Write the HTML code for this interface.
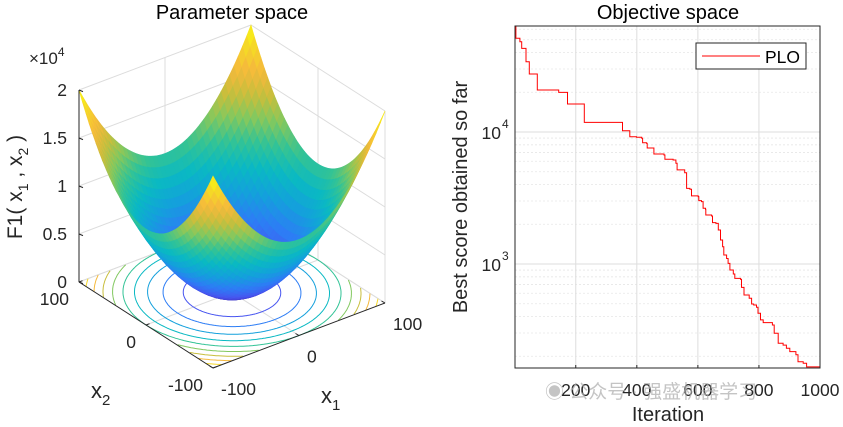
<!DOCTYPE html>
<html><head><meta charset="utf-8"><style>
html,body{margin:0;padding:0;background:#fff;}
svg{display:block;font-family:"Liberation Sans","Noto Sans CJK SC",sans-serif;}
</style></head><body>
<svg id="fig" width="843" height="427" viewBox="0 0 843 427" xmlns="http://www.w3.org/2000/svg">
<rect x="0" y="0" width="843" height="427" fill="#fff"/>
<g id="left"></g>
<g id="right"></g>
</svg>
<script>
// ---- Convergence data (Objective space) ----
const iterations = [1,4,17,23,36,37,47,48,72,74,143,144,172,173,227,228,350,353,375,377,399,416,419,432,434,454,456,489,492,519,528,532,557,563,574,579,601,603,612,617,625,626,645,648,659,667,674,681,685,694,699,705,716,721,740,743,751,768,776,783,792,797,805,814,844,850,863,879,890,901,921,928,945,956,1000];
const bestScores = [63000,51300,48300,43000,43000,34100,34100,27500,27500,20800,20800,19950,19950,16300,16300,11830,11830,10230,10230,9220,9120,8960,8300,8200,7560,7560,6810,6690,6210,6140,5790,5160,4920,3740,3680,3280,3240,3020,2970,2640,2600,2350,2310,2060,2030,1810,1520,1350,1170,1100,1010,900,840,778,765,665,582,550,498,489,470,423,377,360,345,299,251,243,230,217,205,182,177,166,165];
const xTicks = [200,400,600,800,1000];
const yDecades = [3,4];
// ---- Surface / contour settings (Parameter space) ----
const gridVals = [];
for (let v=-100; v<=100; v+=5) gridVals.push(v);
const contourLevels = [2000,4000,6000,8000,10000,12000,14000,16000,18000];
const zTicks = [0,5000,10000,15000,20000];
const zTickLabels = ["0","0.5","1","1.5","2"];
const x1Ticks = [-100,0,100];
const x2Ticks = [-100,0,100];

const NS="http://www.w3.org/2000/svg";
function mk(tag, attrs, parent){const e=document.createElementNS(NS,tag);for(const k in attrs)e.setAttribute(k,attrs[k]);parent.appendChild(e);return e;}
const TF=17.5;

// ---------- RIGHT ----------
const R=document.getElementById('right');
const L0=515,R0=820,T0=26,B0=368;
const xs=i=>L0+(i-1)/999*(R0-L0);
const ys=v=>132-(Math.log10(v)-4)*132;
for(let d=2;d<=4;d++){for(let m=1;m<=9;m++){const v=m*Math.pow(10,d);const y=ys(v);if(y<T0||y>B0)continue;
 const ln=mk('line',{x1:L0,x2:R0,y1:y,y2:y,stroke:m===1?'#dedede':'#e6e6e6','stroke-width':m===1?1:0.8,'stroke-dasharray':m===1?'':'2,2'},R);
 
 }}
xTicks.forEach(t=>{const x=xs(t);
 const g=mk('line',{x1:x,x2:x,y1:T0,y2:B0,stroke:'#dedede','stroke-width':1},R);
 
 
 const tk=mk('line',{x1:x,x2:x,y1:B0,y2:B0-3,stroke:'#262626'},R);
 
 
 const tx=mk('text',{x:x,y:396,'text-anchor':'middle','font-size':TF,fill:'#262626'},R);tx.textContent=t;
 
 });
yDecades.forEach(d=>{const y=ys(Math.pow(10,d));
 const tx=mk('text',{x:501,y:y+7,'text-anchor':'end','font-size':TF,fill:'#262626'},R);tx.textContent='10';
 
 
 const sp=mk('text',{x:502,y:y-4,'font-size':12,fill:'#262626'},R);sp.textContent=d;
 
 });
let pd='M'+L0+','+T0+' L'+xs(iterations[0])+','+ys(bestScores[0]);
for(let i=1;i<iterations.length;i++){pd+=' L'+xs(iterations[i]).toFixed(1)+','+ys(bestScores[i-1]).toFixed(1)+' L'+xs(iterations[i]).toFixed(1)+','+ys(bestScores[i]).toFixed(1);}
const line=mk('path',{d:pd,fill:'none',stroke:'#ff0000','stroke-width':1},R);


const box=mk('rect',{x:L0,y:T0,width:R0-L0,height:B0-T0,fill:'none',stroke:'#262626','stroke-width':1},R);


const lg=mk('g',{},R);


mk('rect',{x:696,y:43,width:110,height:26,fill:'#fff',stroke:'#262626','stroke-width':1},lg);
mk('line',{x1:702,x2:760,y1:56,y2:56,stroke:'#ff0000','stroke-width':1},lg);
const lt=mk('text',{x:765,y:63,'font-size':TF,fill:'#000'},lg);lt.textContent='PLO';
const t2=mk('text',{x:668,y:19,'text-anchor':'middle','font-size':20,fill:'#000'},R);t2.textContent='Objective space';


const xl=mk('text',{x:668,y:421,'text-anchor':'middle','font-size':20,fill:'#262626'},R);xl.textContent='Iteration';


const yl=mk('text',{x:0,y:0,'text-anchor':'middle','font-size':20,fill:'#262626',transform:'translate(467,197) rotate(-90)'},R);yl.textContent='Best score obtained so far';


const wm=mk('text',{x:545,y:398,'font-size':19,fill:'#b0b0b0','fill-opacity':0.75},R);wm.textContent='◉ 公众号 · 强盛机器学习';



// ---------- LEFT ----------
const Lg=document.getElementById('left');
function P(x1,x2,z){return [213+0.86*(x1+100)-0.67*(x2+100), 368-0.325*(x1+100)-0.43*(x2+100)-z*0.0096];}
const stops=[[0,[62,38,168]],[0.1,[71,85,240]],[0.2,[45,125,245]],[0.3,[20,160,220]],[0.4,[10,185,195]],[0.5,[50,195,150]],[0.6,[130,200,95]],[0.7,[200,190,60]],[0.8,[245,185,60]],[0.9,[245,215,40]],[1,[249,250,14]]];
function parula(t){t=Math.max(0,Math.min(1,t));for(let i=1;i<stops.length;i++){if(t<=stops[i][0]){const a=stops[i-1],b=stops[i];const f=(t-a[0])/(b[0]-a[0]);const c=a[1].map((v,k)=>Math.round(v+(b[1][k]-v)*f));return 'rgb('+c.join(',')+')';}}return 'rgb(249,250,14)';}
function pt(p){return p[0].toFixed(1)+','+p[1].toFixed(1);}
const gc='#dcdcdc';
function gl(a,b,name){const l=mk('line',{x1:a[0],y1:a[1],x2:b[0],y2:b[1],stroke:gc,'stroke-width':1},Lg);}
zTicks.forEach(z=>{gl(P(-100,100,z),P(100,100,z),'wall-gridline');gl(P(100,100,z),P(100,-100,z),'wall-gridline');});
x1Ticks.forEach(v=>{gl(P(v,100,0),P(v,100,20000),'wall-gridline');gl(P(v,-100,0),P(v,100,0),'floor-gridline');});
x2Ticks.forEach(v=>{gl(P(100,v,0),P(100,v,20000),'wall-gridline');gl(P(-100,v,0),P(100,v,0),'floor-gridline');});
contourLevels.forEach(lv=>{const r=Math.sqrt(lv);let d='';let pen=false;
 for(let k=0;k<=360;k++){const a=k*Math.PI/180;const x1=r*Math.cos(a),x2=r*Math.sin(a);
  if(Math.abs(x1)<=100&&Math.abs(x2)<=100){const p=P(x1,x2,0);d+=(pen?' L':' M')+pt(p);pen=true;}else pen=false;}
 const c=mk('path',{d:d,fill:'none',stroke:parula(lv/20000),'stroke-width':1},Lg);
 
 });
const n=gridVals.length;const cells=[];
for(let i=0;i<n-1;i++)for(let j=0;j<n-1;j++)cells.push([i,j]);
cells.sort((a,b)=>(b[0]+b[1])-(a[0]+a[1]));
const sg=mk('g',{},Lg);


const f=(a,b)=>a*a+b*b;
cells.forEach(([i,j])=>{const a=gridVals[i],b=gridVals[i+1],c=gridVals[j],d=gridVals[j+1];
 const zs=[f(a,c),f(b,c),f(b,d),f(a,d)];const zm=(zs[0]+zs[1]+zs[2]+zs[3])/4;const col=parula(zm/20000);
 const pg=mk('polygon',{points:[pt(P(a,c,zs[0])),pt(P(b,c,zs[1])),pt(P(b,d,zs[2])),pt(P(a,d,zs[3]))].join(' '),fill:col,stroke:col,'stroke-width':0.6},sg);
 
 });
function al(a,b,name){const l=mk('line',{x1:a[0],y1:a[1],x2:b[0],y2:b[1],stroke:'#262626','stroke-width':1},Lg);}
al(P(-100,100,0),P(-100,100,20000),'z-axis');
al(P(-100,100,0),P(-100,-100,0),'x2-axis');
al(P(-100,-100,0),P(100,-100,0),'x1-axis');
zTicks.forEach((z,k)=>{const p=P(-100,100,z);al(p,[p[0]+4,p[1]+1.6],'z-tick');
 const t=mk('text',{x:67,y:p[1]+6,'text-anchor':'end','font-size':TF,fill:'#262626'},Lg);t.textContent=zTickLabels[k];
 
 });
x2Ticks.forEach(v=>{const p=P(-100,v,0);al(p,[p[0]+3.5,p[1]-1.3],'x2-tick');
 const t=mk('text',{x:p[0]-10,y:p[1]+23,'text-anchor':'end','font-size':TF,fill:'#262626'},Lg);t.textContent=v;
 
 });
x1Ticks.forEach(v=>{const p=P(v,-100,0);al(p,[p[0]-3.5,p[1]-2],'x1-tick');
 const t=mk('text',{x:p[0]+8,y:p[1]+27,'text-anchor':'start','font-size':TF,fill:'#262626'},Lg);t.textContent=v;
 
 });
</script>
<svg style="position:absolute;left:0;top:0" width="843" height="427">
<text x="232" y="19" text-anchor="middle" font-size="20" fill="#000">Parameter space</text>
<text x="29" y="64" font-size="17" fill="#262626">×10<tspan dy="-8" font-size="12">4</tspan></text>
<text transform="translate(22,187) rotate(-90)" text-anchor="middle" font-size="21" fill="#262626">F1( x<tspan dy="6" font-size="14">1</tspan><tspan dy="-6"> , x</tspan><tspan dy="6" font-size="14">2</tspan><tspan dy="-6"> )</tspan></text>
<text x="91" y="398" font-size="22" fill="#262626">x<tspan dy="7" font-size="15">2</tspan></text>
<text x="321" y="403" font-size="22" fill="#262626">x<tspan dy="7" font-size="15">1</tspan></text>
</svg>
</body></html>
